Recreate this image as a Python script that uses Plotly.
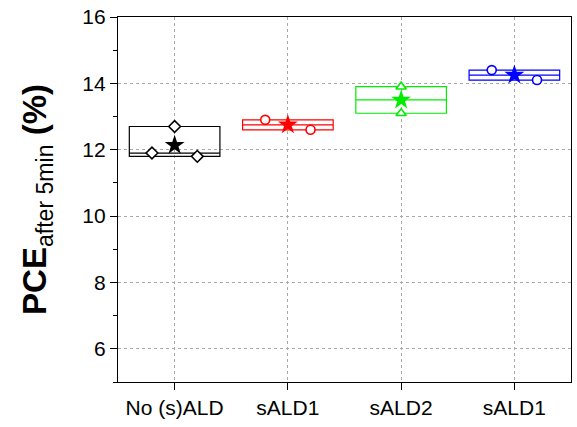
import plotly.graph_objects as go

# Category labels along the x axis
categories = ["No (s)ALD", "sALD1", "sALD2", "sALD1"]

# PCE after 5 min (%) for each device group
pce_no_ald = [12.7, 11.9, 11.8]
pce_sald1_a = [12.9, 12.6]
pce_sald2 = [13.9, 13.1]
pce_sald1_b = [14.4, 14.1]

groups = [pce_no_ald, pce_sald1_a, pce_sald2, pce_sald1_b]

# Horizontal spread of the individual points within each category
point_offsets = [[0.0, -0.2, 0.2], [-0.2, 0.2], [0.0, 0.0], [-0.2, 0.2]]

colors = ["#000000", "#FF0000", "#00EE00", "#0000FF"]
symbols = ["diamond", "circle", "triangle-up", "circle"]

FONT = "Arial, Liberation Sans, sans-serif"

fig = go.Figure()

for i, (vals, col, sym) in enumerate(zip(groups, colors, symbols)):
    # Box: min/median/max (exclusive quartiles for small samples)
    fig.add_trace(go.Box(
        x=[i] * len(vals), y=vals,
        width=0.8, boxpoints=False,
        quartilemethod="exclusive",
        fillcolor="rgba(0,0,0,0)",
        line=dict(color=col, width=1.2),
        whiskerwidth=0.2,
        showlegend=False, hoverinfo="skip",
    ))
    # Individual measurements (hollow, white-filled markers)
    fig.add_trace(go.Scatter(
        x=[i + o for o in point_offsets[i]], y=vals,
        mode="markers",
        marker=dict(symbol=sym, size=9, color="white",
                    line=dict(color=col, width=1.6)),
        showlegend=False,
    ))
    # Mean marker
    fig.add_trace(go.Scatter(
        x=[i], y=[sum(vals) / len(vals)],
        mode="markers",
        marker=dict(symbol="star", size=15, color=col,
                    line=dict(width=0)),
        showlegend=False,
    ))

fig.update_layout(
    width=577, height=427,
    margin=dict(l=118, r=6, t=17, b=45),
    paper_bgcolor="white", plot_bgcolor="white",
    font=dict(family=FONT, size=21, color="black"),
    boxmode="overlay",
    xaxis=dict(
        range=[-0.5, 3.5],
        tickmode="array", tickvals=list(range(len(categories))),
        ticktext=categories,
        ticks="outside", ticklen=7, tickwidth=1.2, tickcolor="black",
        showline=True, linecolor="black", linewidth=1.2, mirror=True,
        showgrid=True, gridcolor="#aaaaaa", griddash="dot", gridwidth=1,
        zeroline=False,
    ),
    yaxis=dict(
        range=[5, 16],
        tickmode="array", tickvals=[6, 8, 10, 12, 14, 16],
        ticks="outside", ticklen=7, tickwidth=1.2, tickcolor="black",
        minor=dict(tickvals=[5, 7, 9, 11, 13, 15], ticks="outside",
                   ticklen=4, tickwidth=1.2, tickcolor="black",
                   showgrid=False),
        showline=True, linecolor="black", linewidth=1.2, mirror=True,
        showgrid=True, gridcolor="#aaaaaa", griddash="dot", gridwidth=1,
        zeroline=False,
    ),
    annotations=[dict(
        text="<b>PCE</b><sub>after 5min</sub><b> (%)</b>",
        xref="paper", yref="paper",
        x=-0.18, y=0.5, xanchor="center", yanchor="middle",
        textangle=-90, showarrow=False,
        font=dict(family=FONT, size=33, color="black"),
    )],
)

fig.write_html("out.html")
